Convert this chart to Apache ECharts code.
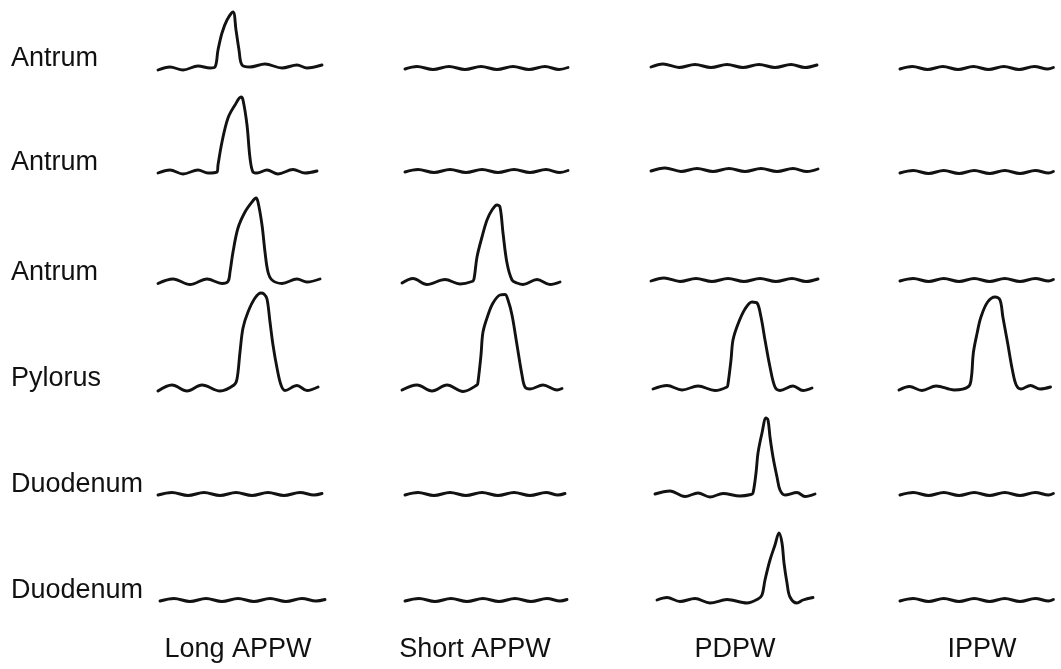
<!DOCTYPE html>
<html>
<head>
<meta charset="utf-8">
<script src="https://cdn.jsdelivr.net/npm/echarts@6/dist/echarts.min.js"></script>
<style>
  html, body { margin: 0; padding: 0; background: #ffffff; }
  #chart { width: 1061px; height: 669px; }
</style>
</head>
<body>
<div id="chart"></div>
<script>
// Pressure wave recordings: rows are recording sites, columns are wave types.
// Each trace is a list of [time, pressure] points; pressure is relative to the resting level.
const rowLabels = ['Antrum', 'Antrum', 'Antrum', 'Pylorus', 'Duodenum', 'Duodenum'];
const colLabels = ['Long APPW', 'Short APPW', 'PDPW', 'IPPW'];

// Row 1 — Antrum
const r1c1 = [[0,-2],[12,1],[25,-2],[40,2],[52,0],[57,1],[60,18],[64,35],[69,48],[75,56],[78,38],[81,18],[84,3],[92,1],[107,4],[124,0],[139,3],[149,0],[164,3]];
const r1c2 = [[3,-1],[15,1.5],[31,-1.5],[47,1.5],[63,-1.5],[79,1.5],[95,-1.5],[111,1.5],[127,-1.5],[143,1.5],[157,-1.5],[166,0.5]];
const r1c3 = [[0,1],[12,4],[28,0.5],[44,3.5],[60,0.5],[76,3.5],[92,0.5],[108,3.5],[124,0.5],[140,3.5],[154,0.5],[166,3]];
const r1c4 = [[1,-1],[14,1.5],[30,-1.5],[46,1.5],[62,-1.5],[78,1.5],[94,-1.5],[110,1.5],[126,-1.5],[142,1.5],[156,-1],[162,0.5]];

// Row 2 — Antrum
const r2c1 = [[0,-1],[12,2],[25,-2],[40,2],[50,-1],[59,0],[60,7],[64,30],[70,54],[77,67],[83,75],[85,72],[89,47],[92,14],[95,0],[99,-1],[109,2],[120,-2],[135,2.5],[147,-1],[159,1]];
const r2c2 = [[3,0],[16,2.5],[32,-0.5],[48,2.5],[64,-0.5],[80,2.5],[96,-0.5],[112,2.5],[128,-0.5],[144,2.5],[158,-0.5],[166,1.5]];
const r2c3 = [[0,1],[14,4],[30,0.5],[46,3.5],[62,0.5],[78,3.5],[94,0.5],[110,3.5],[126,0.5],[142,3.5],[156,0.5],[167,3]];
const r2c4 = [[1,-1],[15,1.5],[31,-1.5],[47,1.5],[63,-1.5],[79,1.5],[95,-1.5],[111,1.5],[127,-1.5],[143,1.5],[157,-1],[162,0.5]];

// Row 3 — Antrum
const r3c1 = [[0,-1.5],[15,3],[32,-2.5],[49,3],[64,-1.5],[70,0.5],[72,10],[75,30],[80,54],[87,70],[94,80],[98,84],[100,80],[104,57],[107,30],[110,10],[114,2],[124,-1.5],[139,3],[149,0],[162,3]];
const r3c2 = [[0,-1],[11,3.5],[25,-2.5],[43,2.5],[58,-2],[70,0.5],[72,3],[75,25],[80,45],[85,62],[90,72],[95,77],[98,75],[101,49],[105,19],[110,2],[115,-1],[121,-2.5],[135,2.5],[148,-2.5],[158,0]];
const r3c3 = [[0,1],[13,4],[29,0.5],[45,3.5],[61,0.5],[77,3.5],[93,0.5],[109,3.5],[125,0.5],[141,3.5],[155,0.5],[167,3]];
const r3c4 = [[1,1],[15,3.5],[31,0.5],[47,3.5],[63,0.5],[79,3.5],[95,0.5],[111,3.5],[127,0.5],[143,3.5],[157,1],[162,2.5]];

// Row 4 — Pylorus
const r4c1 = [[0,-3],[14,3],[29,-3],[44,3],[62,-3],[76,3],[79,9],[82,36],[85,60],[90,76],[97,90],[103,95],[106,94],[109,89],[112,66],[115,43],[119,20],[123,3],[127,-2.5],[139,2.5],[149,-2.5],[160,1]];
const r4c2 = [[0,-2],[15,3],[30,-3],[45,3],[61,-3.5],[75,3],[76,6],[79,33],[81,56],[86,73],[91,85],[98,93],[103,93.5],[106,88],[110,73],[115,43],[120,13],[123,1],[128,-1],[141,3],[155,-2],[160,-0.5]];
const r4c3 = [[2,-1],[16,2.5],[31,-2],[47,2],[64,-2.5],[76,1],[77,4],[80,28],[82,48],[87,64],[94,79],[101,86],[106,85],[110,71],[114,48],[119,21],[124,1],[129,-2.5],[142,2],[152,-2.5],[161,0]];
const r4c4 = [[0,-2],[11,1.5],[24,-2.5],[39,2],[58,-2],[73,1.5],[76,11],[78,35],[82,55],[86,71],[93,86],[101,91],[106,88],[109,71],[114,45],[119,18],[123,3],[128,-1],[138,2.5],[148,-1],[159,1]];

// Row 5 — Duodenum
const r5c1 = [[0,-1],[14,1.5],[30,-1.5],[46,1.5],[62,-1.5],[78,1.5],[94,-1.5],[110,1.5],[126,-1.5],[142,1.5],[156,-1],[164,0.5]];
const r5c2 = [[3,-1],[16,1.5],[32,-1.5],[48,1.5],[64,-1.5],[80,1.5],[96,-1.5],[112,1.5],[128,-1.5],[144,1.5],[156,-1],[163,0.5]];
const r5c3 = [[4,0],[19,3],[34,-2.5],[47,1],[59,-3],[72,0.5],[89,-2],[100,-0.5],[102,1],[105,21],[107,41],[111,61],[115,76],[117,74],[119,57],[122,37],[126,17],[129,4],[134,-1],[146,1.5],[154,-2.5],[164,0]];
const r5c4 = [[1,-1],[15,1.5],[31,-1.5],[47,1.5],[63,-1.5],[79,1.5],[95,-1.5],[111,1.5],[127,-1.5],[143,1.5],[157,-1],[162,0.5]];

// Row 6 — Duodenum
const r6c1 = [[2,-1],[16,1.5],[32,-1.5],[48,1.5],[64,-1.5],[80,1.5],[96,-1.5],[112,1.5],[128,-1.5],[144,1.5],[158,-1],[167,0.5]];
const r6c2 = [[3,-1],[17,1.5],[33,-1.5],[49,1.5],[65,-1.5],[81,1.5],[97,-1.5],[113,1.5],[129,-1.5],[145,1.5],[158,-1],[165,0.5]];
const r6c3 = [[6,0],[16,2.5],[29,-1.5],[44,1.5],[59,-3],[76,0.5],[96,-3],[107,1],[111,5],[114,20],[119,40],[124,55],[128,67],[131,57],[133,37],[136,17],[139,3],[146,-3],[152,0],[162,2.5]];
const r6c4 = [[1,-1],[15,1.5],[31,-1.5],[47,1.5],[63,-1.5],[79,1.5],[95,-1.5],[111,1.5],[127,-1.5],[143,1.5],[157,-1],[162,0.5]];

const traces = [
  [r1c1, r1c2, r1c3, r1c4],
  [r2c1, r2c2, r2c3, r2c4],
  [r3c1, r3c2, r3c3, r3c4],
  [r4c1, r4c2, r4c3, r4c4],
  [r5c1, r5c2, r5c3, r5c4],
  [r6c1, r6c2, r6c3, r6c4]
];

// Panel layout (pixels). Each panel spans 1 px per unit on both axes;
// peaks taller than the panel are drawn past its top edge (clip off).
const colLeft = [158, 402, 651, 899];
const rowBase = [68, 172, 282, 388, 494, 600];
const panelW = 170;
const yLow = -8, yHigh = 52;
const colLabelX = [238, 475, 735, 982];
const FONT = '"Liberation Sans", Arial, Helvetica, sans-serif';

const grid = [], xAxis = [], yAxis = [], series = [];
traces.forEach((row, r) => {
  row.forEach((data, c) => {
    const i = grid.length;
    grid.push({
      left: colLeft[c],
      top: rowBase[r] - yHigh,
      width: panelW,
      height: yHigh - yLow
    });
    xAxis.push({ type: 'value', gridIndex: i, min: 0, max: panelW, show: false });
    yAxis.push({ type: 'value', gridIndex: i, min: yLow, max: yHigh, show: false });
    series.push({
      type: 'line',
      xAxisIndex: i,
      yAxisIndex: i,
      data: data,
      smooth: 0.35,
      showSymbol: false,
      clip: false,
      lineStyle: { color: '#121212', width: 2.9, cap: 'round', join: 'round' }
    });
  });
});

const graphic = [];
rowLabels.forEach((t, r) => {
  graphic.push({
    type: 'text', left: 11, top: rowBase[r] - 23,
    style: { text: t, fill: '#111', font: '27px ' + FONT }
  });
});
colLabels.forEach((t, c) => {
  graphic.push({
    type: 'text', x: colLabelX[c], y: 636,
    style: { text: t, fill: '#111', font: '27px ' + FONT, textAlign: 'center' }
  });
});

const chart = echarts.init(document.getElementById('chart'), null, { renderer: 'canvas' });
chart.setOption({
  animation: false,
  backgroundColor: '#ffffff',
  grid, xAxis, yAxis, series, graphic
});
</script>
</body>
</html>
